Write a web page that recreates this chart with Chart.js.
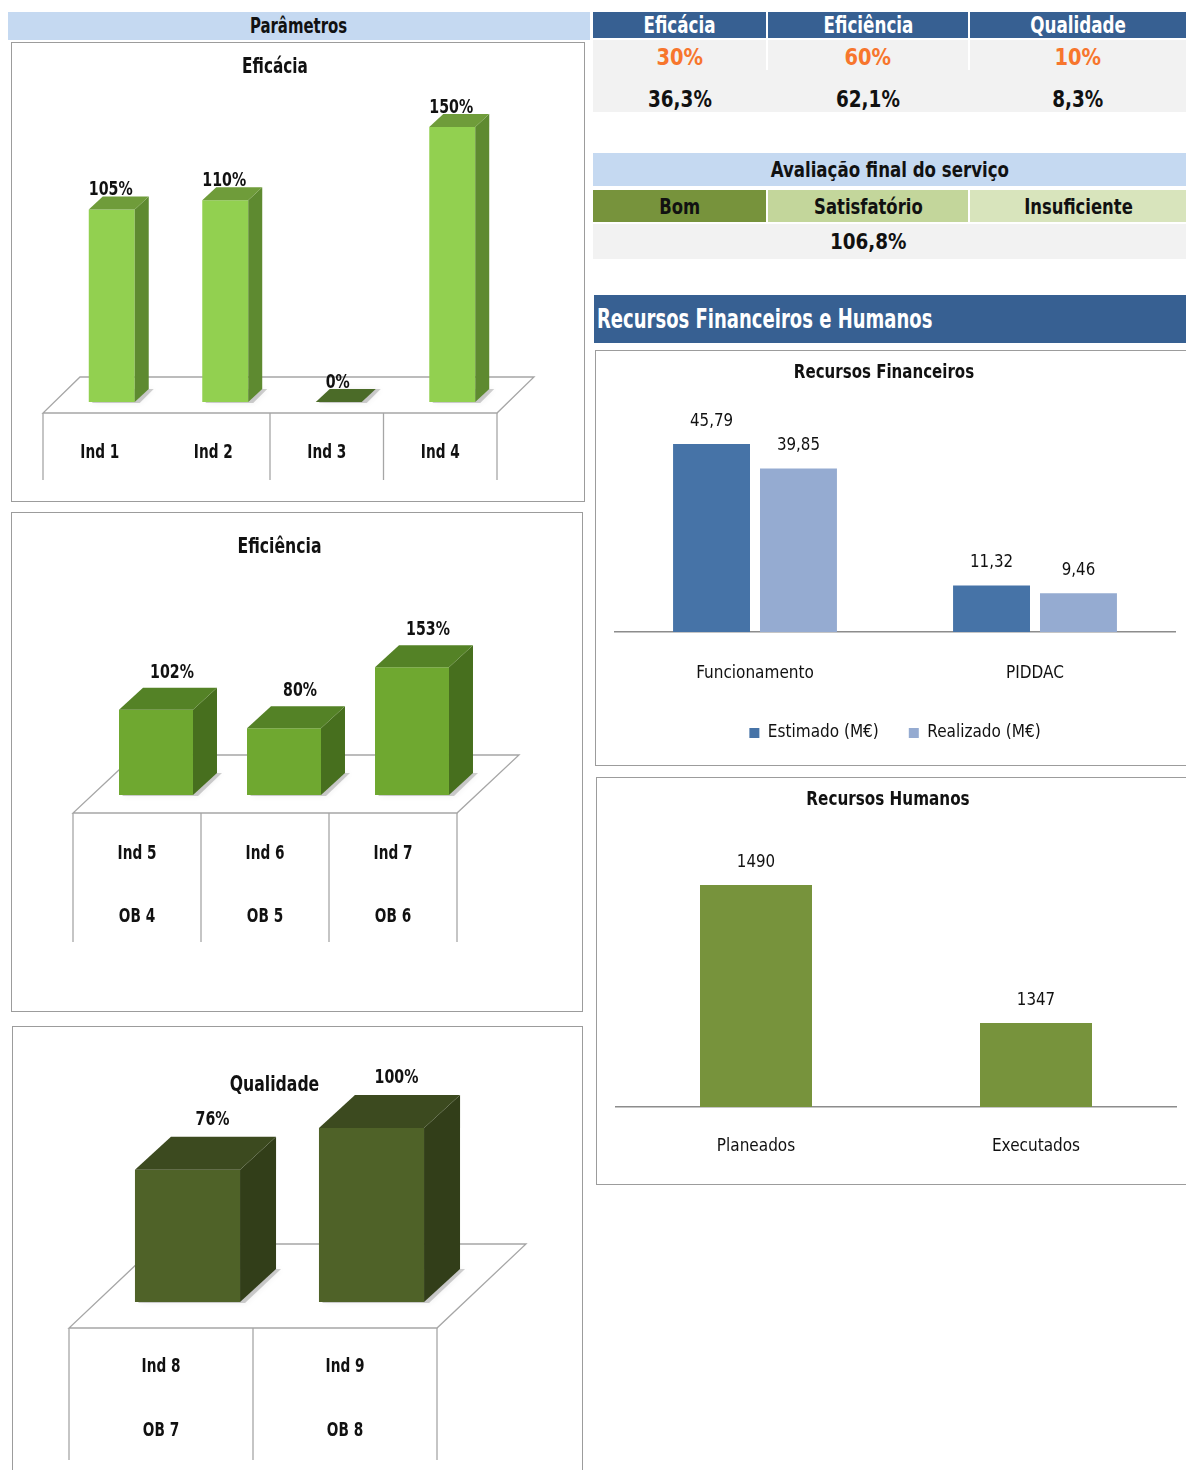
<!DOCTYPE html>
<html><head><meta charset="utf-8">
<script src="https://cdn.jsdelivr.net/npm/chart.js@4.4.1/dist/chart.umd.min.js"></script>
<style>
body{margin:0;background:#fff;}
#page{position:relative;width:1186px;height:1470px;overflow:hidden;font-family:"DejaVu Sans Condensed",sans-serif;}
.a{position:absolute;box-sizing:border-box;display:flex;align-items:center;justify-content:center;white-space:nowrap;}
.a span{display:inline-block;}
.panel{position:absolute;box-sizing:border-box;border:1px solid #9c9c9c;background:#fff;}
.panel canvas{position:absolute;left:0;top:0;}
</style></head>
<body><div id="page">
<div class="panel" style="left:11px;top:42px;width:574px;height:460px"><canvas id="cEficacia" width="572" height="458"></canvas></div>
<div class="panel" style="left:11px;top:512px;width:572px;height:500px"><canvas id="cEficiencia" width="570" height="498"></canvas></div>
<div class="panel" style="left:12px;top:1026px;width:571px;height:450px"><canvas id="cQualidade" width="569" height="448"></canvas></div>
<div class="panel" style="left:595px;top:350px;width:592px;height:416px"><canvas id="cFin" width="590" height="414"></canvas></div>
<div class="panel" style="left:596px;top:777px;width:591px;height:408px"><canvas id="cRH" width="589" height="406"></canvas></div>
</div>
<script>
// ---------- data ----------
const paramTitle = 'Parâmetros';
const topHeaders = ['Eficácia', 'Eficiência', 'Qualidade'];
const weights = ['30%', '60%', '10%'];
const scores = ['36,3%', '62,1%', '8,3%'];
const finalTitle = 'Avaliação final do serviço';
const ratingLabels = ['Bom', 'Satisfatório', 'Insuficiente'];
const finalScore = '106,8%';
const resourcesTitle = 'Recursos Financeiros e Humanos';

const eficaciaLabels = ['Ind 1', 'Ind 2', 'Ind 3', 'Ind 4'];
const eficaciaValues = [105, 110, 0, 150];
const eficienciaInd = ['Ind 5', 'Ind 6', 'Ind 7'];
const eficienciaOb = ['OB 4', 'OB 5', 'OB 6'];
const eficienciaValues = [102, 80, 153];
const qualidadeInd = ['Ind 8', 'Ind 9'];
const qualidadeOb = ['OB 7', 'OB 8'];
const qualidadeValues = [76, 100];

const finCategories = ['Funcionamento', 'PIDDAC'];
const finSeriesNames = ['Estimado (M€)', 'Realizado (M€)'];
const finEstimado = [45.79, 11.32];
const finRealizado = [39.85, 9.46];

const rhCategories = ['Planeados', 'Executados'];
const rhValues = [1490, 1347];

// ---------- html tables ----------
const FONT = '"DejaVu Sans Condensed",sans-serif';
const page = document.getElementById('page');
function box(l, t, w, h, text, css, k, origin) {
  const d = document.createElement('div');
  d.className = 'a';
  d.style.cssText = `left:${l}px;top:${t}px;width:${w}px;height:${h}px;` + (css || '');
  if (text) {
    const s = document.createElement('span');
    s.textContent = text;
    s.style.transform = `scaleX(${k || 1})`;
    s.style.transformOrigin = origin || 'center';
    d.appendChild(s);
  }
  page.appendChild(d);
  return d;
}
const BLUE = '#376092', LIGHT = '#c5d9f1', GREY = '#f2f2f2';
box(8, 12, 582, 28, paramTitle, `background:${LIGHT};color:#111;font-weight:bold;font-size:21px;`, 0.79);
const cols = [[593, 173], [768, 200], [970, 216]];
cols.forEach((c, i) => {
  box(c[0], 12, c[1], 26, topHeaders[i], `background:${BLUE};color:#fff;font-weight:bold;font-size:23px;`, 0.81);
  box(c[0], 40, c[1], 30, weights[i], `background:${GREY};color:#f7762d;font-weight:bold;font-size:23px;padding-top:4px;`, 0.94);
});
box(593, 70, 593, 42, '', `background:${GREY};`);
cols.forEach((c, i) => box(c[0], 70, c[1], 42, scores[i], `color:#111;font-weight:bold;font-size:23px;padding-top:16px;`, 0.89));
box(593, 153, 593, 33, finalTitle, `background:${LIGHT};color:#111;font-weight:bold;font-size:22px;`, 0.84);
const ratingBg = ['#77933c', '#c3d69b', '#d8e4bc'];
cols.forEach((c, i) => box(c[0], 190, c[1], 32, ratingLabels[i], `background:${ratingBg[i]};color:#111;font-weight:bold;font-size:22px;`, 0.83));
box(593, 224, 593, 35, '', `background:${GREY};`);
box(cols[1][0], 224, cols[1][1], 35, finalScore, `color:#111;font-weight:bold;font-size:22px;`, 0.93);
box(594, 295, 592, 48, resourcesTitle, `background:${BLUE};color:#fff;font-weight:bold;font-size:26px;justify-content:flex-start;padding-left:3px;`, 0.77, 'left');

// ---------- charts ----------
Chart.defaults.font.family = FONT;
Chart.defaults.color = '#000';
Chart.defaults.animation = false;
Chart.defaults.plugins.tooltip.enabled = false;
Chart.defaults.plugins.legend.display = false;

function condText(ctx, text, x, y, k) {
  ctx.save();
  ctx.translate(x, y);
  ctx.scale(k, 1);
  ctx.fillText(text, 0, 0);
  ctx.restore();
}

// narrow the chart title text (the reference uses a condensed face)
function condenseTitle(chart, k, dx) {
  const tb = chart.titleBlock;
  const orig = tb.draw;
  tb.draw = function (...a) {
    const ctx = this.ctx, cx = (this.left + this.right) / 2;
    ctx.save();
    ctx.translate(cx + dx, 0); ctx.scale(k, 1); ctx.translate(-cx, 0);
    orig.apply(this, a);
    ctx.restore();
  };
  chart.draw();
}

const box3d = {
  id: 'box3d',
  beforeDatasetsDraw(chart, args, o) {
    const {ctx, chartArea: ca} = chart;
    const xs = chart.scales.x, ys = chart.scales.y;
    const base = ys.getPixelForValue(0);
    const L = ca.left - o.barOffset[0], R = ca.right - o.barOffset[0], Y0 = base - o.barOffset[1];
    const DX = o.floorDepth[0], DY = o.floorDepth[1];
    ctx.save();
    ctx.strokeStyle = '#a6a6a6'; ctx.lineWidth = 1.3; ctx.fillStyle = '#fff';
    ctx.beginPath(); ctx.moveTo(L, Y0); ctx.lineTo(R, Y0); ctx.lineTo(R + DX, Y0 + DY); ctx.lineTo(L + DX, Y0 + DY); ctx.closePath();
    ctx.fill(); ctx.stroke();
    const n = chart.data.labels.length, w = (R - L) / n;
    const skip = o.skipLines || [];
    for (let i = 0; i <= n; i++) {
      if (skip.includes(i)) continue;
      const x = L + i * w;
      ctx.beginPath(); ctx.moveTo(x, Y0); ctx.lineTo(x, Y0 + o.tableHeight); ctx.stroke();
    }
    ctx.fillStyle = '#111'; ctx.font = 'bold 19px ' + FONT; ctx.textAlign = 'center'; ctx.textBaseline = 'middle';
    const rows = [chart.data.labels];
    if (o.subLabels) rows.push(o.subLabels);
    rows.forEach((r, ri) => r.forEach((lab, i) => {
      condText(ctx, lab, xs.getPixelForValue(i) - o.barOffset[0], Y0 + o.rowOffsets[ri], 0.8);
    }));
    // soft shadow under the bars
    const bdx = o.barDepth[0], bdy = o.barDepth[1];
    chart.getDatasetMeta(0).data.forEach((bar) => {
      const p = bar.getProps(['x', 'base', 'width'], true);
      const l = p.x - p.width / 2 + 3, r = p.x + p.width / 2 + 5;
      ctx.save();
      ctx.fillStyle = 'rgba(0,0,0,0.18)'; ctx.shadowColor = 'rgba(0,0,0,0.35)'; ctx.shadowBlur = 6;
      ctx.beginPath(); ctx.moveTo(l, p.base + 1); ctx.lineTo(r, p.base + 1); ctx.lineTo(r + bdx, p.base + bdy); ctx.lineTo(l + bdx, p.base + bdy); ctx.closePath(); ctx.fill();
      ctx.restore();
    });
    ctx.restore();
  },
  afterDatasetsDraw(chart, args, o) {
    const ctx = chart.ctx, meta = chart.getDatasetMeta(0), ds = chart.data.datasets[0];
    const bdx = o.barDepth[0], bdy = o.barDepth[1];
    ctx.save();
    meta.data.forEach((bar, i) => {
      const p = bar.getProps(['x', 'y', 'base', 'width'], true);
      const l = p.x - p.width / 2, r = p.x + p.width / 2;
      ctx.fillStyle = o.sideColor;
      ctx.beginPath(); ctx.moveTo(r, p.y); ctx.lineTo(r + bdx, p.y + bdy); ctx.lineTo(r + bdx, p.base + bdy); ctx.lineTo(r, p.base); ctx.closePath(); ctx.fill();
      ctx.fillStyle = ds.data[i] === 0 ? o.flatColor : o.topColor;
      ctx.beginPath(); ctx.moveTo(l, p.y); ctx.lineTo(r, p.y); ctx.lineTo(r + bdx, p.y + bdy); ctx.lineTo(l + bdx, p.y + bdy); ctx.closePath(); ctx.fill();
      ctx.fillStyle = '#111'; ctx.font = 'bold 19px ' + FONT; ctx.textAlign = 'center'; ctx.textBaseline = 'middle';
      condText(ctx, ds.data[i] + '%', p.x + o.labelShift[0], p.y + bdy - o.labelShift[1], 0.83);
    });
    ctx.restore();
  }
};

function chart3d(id, labels, values, cfg) {
  const c = new Chart(document.getElementById(id), {
    type: 'bar',
    data: {labels, datasets: [{data: values, backgroundColor: cfg.front, categoryPercentage: 1, barPercentage: cfg.barPct, borderWidth: 0}]},
    plugins: [box3d],
    options: {
      responsive: false,
      layout: {padding: cfg.padding},
      scales: {
        x: {display: false},
        y: {display: false, min: 0, max: cfg.ymax}
      },
      plugins: {
        title: {display: true, text: cfg.title, font: {size: 21, weight: 'bold'}, color: '#111', padding: cfg.titlePad},
        box3d: cfg.box
      }
    }
  });
  condenseTitle(c, cfg.titleK, cfg.titleDx);
  return c;
}

chart3d('cEficacia', eficaciaLabels, eficaciaValues, {
  title: 'Eficácia', front: '#92d050', barPct: 0.405, ymax: 160, titleK: 0.81, titleDx: -7,
  padding: {left: 43, right: 75, bottom: 99, top: 0}, titlePad: {top: 12.4, bottom: 28.1},
  box: {barOffset: [12, -11], floorDepth: [37, -36], barDepth: [14, -13], tableHeight: 67, rowOffsets: [40],
        skipLines: [1], sideColor: '#5e8a30', topColor: '#6f9c3a', flatColor: '#4b6b28', labelShift: [-1, 6]}
});
chart3d('cEficiencia', eficienciaInd, eficienciaValues, {
  title: 'Eficiência', front: '#6fa830', barPct: 0.578, ymax: 180, titleK: 0.83, titleDx: -4.5,
  padding: {left: 80, right: 106, bottom: 216, top: 0}, titlePad: {top: 22.4, bottom: 84.1},
  box: {barOffset: [19, -18], floorDepth: [62, -58], barDepth: [24, -22], tableHeight: 129, rowOffsets: [41, 104],
        subLabels: eficienciaOb, sideColor: '#476f1e', topColor: '#548226', flatColor: '#476f1e', labelShift: [16, 15]}
});
chart3d('cQualidade', qualidadeInd, qualidadeValues, {
  title: 'Qualidade', front: '#4f6228', barPct: 0.571, ymax: 115, titleK: 0.83, titleDx: -5,
  padding: {left: 82.5, right: 118.5, bottom: 173, top: 0}, titlePad: {top: 46.4, bottom: 3.4},
  box: {barOffset: [26.5, -26], floorDepth: [89, -84], barDepth: [36, -33], tableHeight: 132, rowOffsets: [39, 103],
        subLabels: qualidadeOb, sideColor: '#323e19', topColor: '#3c4a1f', flatColor: '#323e19', labelShift: [25, 17]}
});

const valueLabels = {
  id: 'valueLabels',
  afterDatasetsDraw(chart, args, o) {
    const ctx = chart.ctx;
    ctx.save();
    ctx.fillStyle = '#111'; ctx.font = o.size + 'px ' + FONT; ctx.textAlign = 'center'; ctx.textBaseline = 'middle';
    chart.data.datasets.forEach((ds, di) => {
      chart.getDatasetMeta(di).data.forEach((bar, i) => {
        const v = ds.data[i];
        const t = o.decimals ? v.toFixed(o.decimals).replace('.', ',') : String(v);
        condText(ctx, t, bar.x, bar.y - o.offset, 0.93);
      });
    });
    ctx.restore();
  }
};

function xAxis(pad) {
  return {
    grid: {display: false, drawTicks: true, tickLength: 20},
    border: {display: true, color: '#8c8c8c', width: 1.5},
    ticks: {font: {size: 17}, color: '#111', padding: pad}
  };
}

const finChart = new Chart(document.getElementById('cFin'), {
  type: 'bar',
  data: {
    labels: finCategories,
    datasets: [
      {label: finSeriesNames[0], data: finEstimado, backgroundColor: '#4673a7', categoryPercentage: 0.621, barPercentage: 0.885},
      {label: finSeriesNames[1], data: finRealizado, backgroundColor: '#95abd1', categoryPercentage: 0.621, barPercentage: 0.885}
    ]
  },
  plugins: [valueLabels],
  options: {
    responsive: false,
    layout: {padding: {left: 19, right: 11, top: 0, bottom: 13.5}},
    scales: {x: xAxis(11), y: {display: false, min: 0, max: 50}},
    plugins: {
      title: {display: true, text: 'Recursos Financeiros', font: {size: 19, weight: 'bold'}, color: '#111', padding: {top: 11, bottom: 41.9}},
      legend: {display: true, position: 'bottom', labels: {boxWidth: 10, boxHeight: 10, font: {size: 17}, color: '#111', padding: 30}},
      valueLabels: {size: 18, offset: 23, decimals: 2}
    }
  }
});
condenseTitle(finChart, 0.88, -11);

const rhChart = new Chart(document.getElementById('cRH'), {
  type: 'bar',
  data: {labels: rhCategories, datasets: [{data: rhValues, backgroundColor: '#77933c', categoryPercentage: 1, barPercentage: 0.4}]},
  plugins: [valueLabels],
  options: {
    responsive: false,
    layout: {padding: {left: 19, right: 10, top: 0, bottom: 17}},
    scales: {x: xAxis(9.8), y: {display: false, min: 1260, max: 1520}},
    plugins: {
      title: {display: true, text: 'Recursos Humanos', font: {size: 19, weight: 'bold'}, color: '#111', padding: {top: 11, bottom: 44.2}},
      valueLabels: {size: 18, offset: 23, decimals: 0}
    }
  }
});
condenseTitle(rhChart, 0.89, -8);
</script>
</body></html>
